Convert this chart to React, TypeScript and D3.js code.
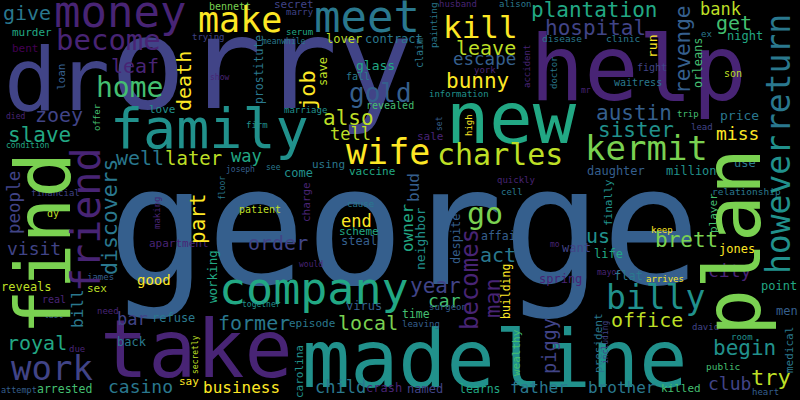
import React, { useEffect, useRef } from 'react';
import * as d3 from 'd3';

// viridis-like palette used by the cloud
const palette = ['#440154', '#482475', '#414487', '#355f8d', '#2a788e', '#21918c', '#22a884', '#44bf70', '#7ad151', '#bddf26', '#fde725'];

// [word, fontSize, x (left), y (baseline), colour index]
const horizontalWords: [string, number, number, number, number][] = [
  ['george', 164, 108, 284, 3],
  ['madeline', 80, 302, 387, 5],
  ['take', 80, 100, 377, 1],
  ['dr', 88, 4, 110, 2],
  ['orry', 126, 110, 108, 2],
  ['help', 90, 530, 100, 1],
  ['new', 72, 446, 143, 6],
  ['family', 55, 110, 148, 5],
  ['money', 44, 54, 27, 1],
  ['meet', 44, 314, 32, 4],
  ['make', 35, 198, 32, 10],
  ['kill', 31, 443, 38, 10],
  ['become', 29, 56, 50, 1],
  ['home', 28, 96, 97, 7],
  ['company', 45, 219, 304, 6],
  ['wife', 35, 346, 164, 10],
  ['charles', 30, 437, 165, 9],
  ['kermit', 34, 585, 160, 8],
  ['billy', 33, 606, 309, 5],
  ['gold', 26, 349, 102, 3],
  ['leaf', 20, 111, 73, 1],
  ['give', 20, 3, 20, 4],
  ['zoey', 20, 35, 122, 2],
  ['also', 21, 323, 125, 9],
  ['tell', 17, 330, 140, 9],
  ['slave', 21, 8, 142, 6],
  ['well', 20, 116, 165, 4],
  ['later', 19, 165, 165, 9],
  ['way', 17, 231, 162, 6],
  ['murder', 11, 12, 36, 6],
  ['bent', 11, 12, 52, 0],
  ['bennett', 10, 209, 10, 8],
  ['secret', 11, 274, 8, 2],
  ['marry', 9, 286, 15, 2],
  ['serum', 9, 286, 35, 6],
  ['trying', 9, 192, 40, 2],
  ['meanwhile', 8, 262, 44, 4],
  ['lover', 12, 326, 43, 9],
  ['contract', 12, 365, 43, 4],
  ['show', 8, 210, 80, 1],
  ['glass', 13, 356, 70, 6],
  ['fall', 10, 346, 80, 4],
  ['revealed', 10, 366, 109, 7],
  ['love', 11, 149, 113, 5],
  ['died', 8, 6, 119, 1],
  ['marriage', 9, 284, 113, 5],
  ['condition', 8, 6, 148, 6],
  ['firm', 9, 246, 128, 5],
  ['using', 11, 312, 168, 4],
  ['vaccine', 11, 349, 175, 6],
  ['come', 12, 284, 177, 5],
  ['joseph', 8, 226, 172, 3],
  ['see', 8, 266, 170, 4],
  ['financial', 9, 31, 196, 2],
  ['visit', 18, 7, 255, 2],
  ['dy', 10, 47, 217, 9],
  ['reveals', 12, 1, 291, 9],
  ['james', 9, 87, 280, 3],
  ['sex', 11, 87, 292, 9],
  ['real', 10, 42, 303, 1],
  ['royal', 20, 7, 350, 6],
  ['due', 9, 69, 352, 1],
  ['need', 9, 97, 314, 1],
  ['last', 8, 44, 318, 3],
  ['bar', 17, 117, 325, 2],
  ['refuse', 12, 152, 322, 4],
  ['back', 12, 117, 346, 4],
  ['work', 34, 11, 380, 2],
  ['attempt', 8.5, 1, 393, 3],
  ['arrested', 11.5, 37, 393, 7],
  ['casino', 18, 108, 393, 4],
  ['say', 11, 179, 385, 10],
  ['business', 16, 203, 393, 10],
  ['child', 17, 315, 393, 4],
  ['crash', 12, 366, 392, 1],
  ['former', 20, 218, 330, 4],
  ['order', 20, 248, 250, 2],
  ['end', 17, 341, 227, 10],
  ['scheme', 11, 339, 235, 6],
  ['steal', 12, 341, 245, 3],
  ['apartment', 11, 149, 247, 1],
  ['good', 14, 137, 285, 10],
  ['patient', 10, 239, 213, 9],
  ['cause', 9, 347, 207, 4],
  ['would', 8, 299, 267, 1],
  ['together', 8, 242, 307, 5],
  ['virus', 12, 346, 310, 3],
  ['local', 20, 338, 330, 8],
  ['episode', 11, 289, 327, 4],
  ['go', 30, 467, 224, 8],
  ['us', 20, 586, 243, 5],
  ['act', 20, 480, 262, 4],
  ['affair', 11.5, 481, 240, 3],
  ['year', 21, 410, 293, 2],
  ['car', 18, 428, 307, 7],
  ['time', 11.5, 402, 318, 7],
  ['surgeon', 9, 429, 310, 3],
  ['leaving', 9, 402, 327, 3],
  ['named', 12, 407, 393, 2],
  ['learns', 11.5, 459, 393, 6],
  ['father', 16, 510, 393, 4],
  ['brother', 16, 588, 393, 4],
  ['killed', 11, 661, 392, 7],
  ['heart', 9, 752, 395, 3],
  ['spring', 12, 539, 283, 1],
  ['mo', 8, 550, 247, 1],
  ['want', 12, 562, 252, 2],
  ['life', 12, 594, 258, 6],
  ['mayor', 8, 597, 275, 1],
  ['flat', 12, 614, 280, 4],
  ['arrives', 9, 646, 282, 10],
  ['keep', 9, 651, 233, 10],
  ['office', 20, 611, 327, 9],
  ['brett', 21, 655, 247, 8],
  ['jones', 12, 719, 253, 10],
  ['city', 18, 708, 277, 1],
  ['point', 12, 761, 290, 6],
  ['men', 12, 776, 315, 3],
  ['david', 9, 692, 330, 2],
  ['room', 9, 731, 340, 5],
  ['begin', 21, 713, 355, 5],
  ['public', 9.5, 706, 370, 7],
  ['club', 18, 708, 390, 2],
  ['try', 22, 751, 385, 9],
  ['plantation', 21, 531, 17, 6],
  ['hospital', 21, 545, 35, 2],
  ['leave', 20, 456, 55, 9],
  ['escape', 17.5, 453, 65, 3],
  ['bunny', 21, 446, 88, 10],
  ['bank', 17, 700, 15, 9],
  ['get', 20, 716, 30, 7],
  ['ex', 9, 701, 37, 4],
  ['night', 12, 727, 40, 6],
  ['husband', 9, 439, 7, 1],
  ['alison', 9, 499, 7, 4],
  ['disease', 9.5, 542, 42, 4],
  ['clinic', 9.5, 606, 42, 4],
  ['york', 9, 474, 73, 1],
  ['fight', 10, 637, 71, 2],
  ['son', 10, 724, 77, 9],
  ['waitress', 10, 614, 86, 4],
  ['information', 9, 429, 97, 5],
  ['mr', 8, 581, 93, 1],
  ['austin', 21, 596, 120, 3],
  ['sister', 21, 598, 137, 5],
  ['miss', 18, 716, 140, 10],
  ['price', 13, 720, 120, 4],
  ['trip', 9, 677, 117, 7],
  ['lead', 9, 691, 130, 2],
  ['sale', 11, 417, 140, 1],
  ['daughter', 12, 587, 175, 3],
  ['million', 12, 666, 175, 5],
  ['use', 12, 734, 167, 4],
  ['quickly', 9, 497, 183, 1],
  ['cell', 9, 501, 195, 4],
  ['relationship', 9.5, 712, 195, 4]
];

// [word, fontSize, x (baseline), y (start, text reads upward), colour index]
const verticalWords: [string, number, number, number, number][] = [
  ['find', 76, 70, 335, 8],
  ['friend', 40, 100, 292, 1],
  ['discovers', 21.5, 117, 275, 4],
  ['people', 17.5, 20, 234, 2],
  ['bill', 16, 83, 328, 4],
  ['death', 20, 191, 111, 10],
  ['loan', 11, 65, 90, 3],
  ['job', 22, 315, 110, 10],
  ['prostitute', 11.5, 263, 104, 4],
  ['save', 12, 327, 86, 9],
  ['offer', 9, 100, 131, 7],
  ['floor', 8, 225, 200, 4],
  ['part', 21, 205, 244, 10],
  ['making', 9, 160, 229, 1],
  ['working', 12.5, 217, 303, 6],
  ['secretly', 8, 198, 374, 9],
  ['carolina', 11, 303, 398, 5],
  ['charge', 11, 310, 222, 1],
  ['owner', 16, 413, 252, 6],
  ['bud', 16, 419, 202, 3],
  ['becomes', 24, 478, 330, 1],
  ['man', 22, 500, 318, 1],
  ['neighbor', 13, 425, 270, 5],
  ['despite', 12, 460, 264, 3],
  ['building', 11.5, 510, 319, 10],
  ['wealthy', 11, 520, 376, 7],
  ['piggy', 18.6, 556, 374, 2],
  ['president', 11, 602, 373, 4],
  ['including', 8, 608, 364, 2],
  ['finally', 11, 612, 226, 5],
  ['player', 11, 717, 233, 7],
  ['medical', 11, 793, 373, 4],
  ['plan', 78, 760, 336, 8],
  ['however', 33, 790, 274, 5],
  ['return', 33, 790, 133, 4],
  ['revenge', 21, 690, 94, 3],
  ['run', 13, 657, 58, 10],
  ['orleans', 12, 702, 88, 7],
  ['painting', 9.5, 437, 48, 4],
  ['claim', 10, 423, 68, 4],
  ['accident', 9, 530, 88, 1],
  ['doctor', 9, 557, 89, 4],
  ['high', 9, 472, 136, 10],
  ['set', 8, 442, 131, 3]
];

const width = 800;
const height = 400;

export default function App() {
  const svgRef = useRef<SVGSVGElement>(null);

  useEffect(() => {
    if (!svgRef.current) return;
    const svg = d3.select(svgRef.current);
    svg.selectAll('*').remove();

    // picture pixels -> svg pixels
    const x = d3.scaleLinear().domain([0, 800]).range([0, width]);
    const y = d3.scaleLinear().domain([0, 400]).range([0, height]);

    svg.append('rect').attr('width', width).attr('height', height).attr('fill', '#000');

    const g = svg.append('g').attr('font-family', '"DejaVu Sans Mono", monospace');

    g.selectAll('text.h')
      .data(horizontalWords)
      .join('text')
      .attr('class', 'h')
      .attr('x', d => x(d[2]))
      .attr('y', d => y(d[3]))
      .attr('font-size', d => d[1])
      .attr('fill', d => palette[d[4]])
      .text(d => d[0]);

    g.selectAll('text.v')
      .data(verticalWords)
      .join('text')
      .attr('class', 'v')
      .attr('transform', d => `translate(${x(d[2])},${y(d[3])}) rotate(-90)`)
      .attr('font-size', d => d[1])
      .attr('fill', d => palette[d[4]])
      .text(d => d[0]);
  }, []);

  return (
    <div style={{ position: 'fixed', left: 0, top: 0 }}>
      <svg ref={svgRef} width={width} height={height} style={{ display: 'block' }} />
    </div>
  );
}
